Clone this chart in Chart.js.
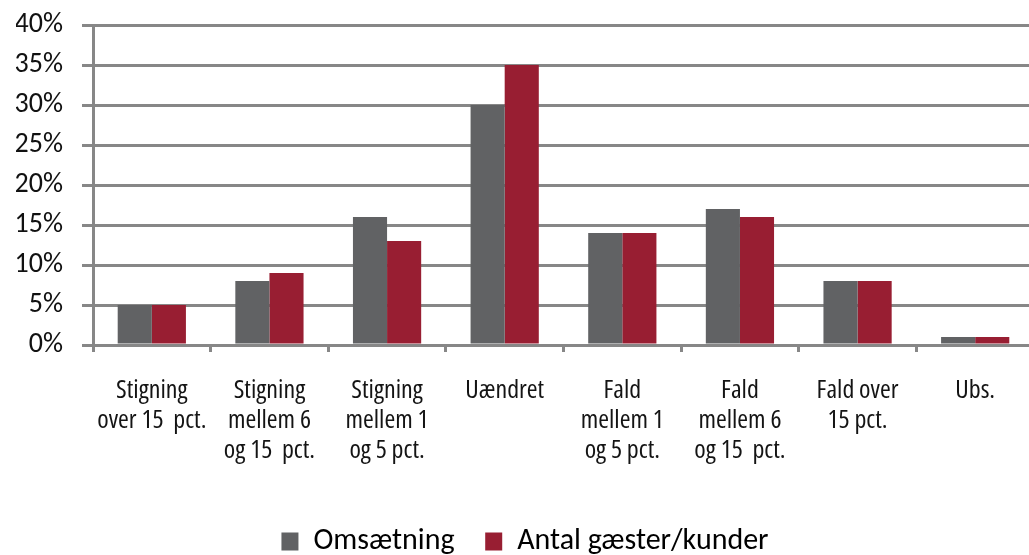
<!DOCTYPE html>
<html>
<head>
<meta charset="utf-8">
<script src="https://cdn.jsdelivr.net/npm/chart.js@4/dist/chart.umd.min.js"></script>
<style>
  html, body { margin: 0; padding: 0; background: #ffffff; overflow: hidden; }
  #wrap { width: 1040px; height: 555px; }
</style>
</head>
<body>
<div id="wrap"><canvas id="c" width="1040" height="555"></canvas></div>
<script>
const categories = [
  ["Stigning", "over 15  pct."],
  ["Stigning", "mellem 6", "og 15  pct."],
  ["Stigning", "mellem 1", "og 5 pct."],
  ["Uændret"],
  ["Fald", "mellem 1", "og 5 pct."],
  ["Fald", "mellem 6", "og 15  pct."],
  ["Fald over", "15 pct."],
  ["Ubs."]
];
const seriesNames = ["Omsætning", "Antal gæster/kunder"];
const omsaetning = [5, 8, 16, 30, 14, 17, 8, 1];
const antalGaester = [5, 9, 13, 35, 14, 16, 8, 1];
const yTicks = [0, 5, 10, 15, 20, 25, 30, 35, 40];

const GRID = '#878787';
const GRAY = '#616264';
const RED = '#981E32';

new Chart(document.getElementById('c'), {
  type: 'bar',
  data: {
    labels: categories,
    datasets: [
      { label: seriesNames[0], data: omsaetning, backgroundColor: GRAY, borderWidth: 0,
        categoryPercentage: 0.58, barPercentage: 1.0 },
      { label: seriesNames[1], data: antalGaester, backgroundColor: RED, borderWidth: 0,
        categoryPercentage: 0.58, barPercentage: 1.0 }
    ]
  },
  options: {
    responsive: false,
    animation: false,
    devicePixelRatio: 1,
    layout: { padding: { left: 16, right: 6, top: 25, bottom: -11.5 } },
    plugins: {
      tooltip: { enabled: false },
      legend: {
        position: 'bottom',
        align: 'center',
        labels: {
          boxWidth: 17,
          boxHeight: 18,
          padding: 30.6,
          color: '#000000',
          font: { family: "Carlito, 'Open Sans', sans-serif", size: 30 }
        }
      }
    },
    scales: {
      x: {
        offset: true,
        afterFit: (s) => { s.height = 150.9; },
        grid: {
          display: true,
          offset: true,
          drawOnChartArea: false,
          drawTicks: true,
          tickLength: 7,
          color: GRID,
          lineWidth: 3
        },
        border: { display: true, color: GRID, width: 3 },
        ticks: {
          maxRotation: 0,
          minRotation: 0,
          autoSkip: false,
          padding: 23.6,
          color: '#141414',
          font: { family: "'Open Sans', sans-serif", weight: 'condensed', size: 26, lineHeight: 1.16 }
        }
      },
      y: {
        min: 0,
        max: 40,
        afterFit: (s) => { s.width = 77; },
        afterBuildTicks: (s) => { s.ticks = yTicks.map(v => ({ value: v })); },
        grid: {
          color: GRID,
          lineWidth: 3,
          drawTicks: true,
          tickLength: 11
        },
        border: { display: true, color: GRID, width: 3 },
        ticks: {
          padding: 19,
          color: '#111111',
          font: { family: "Carlito, 'Open Sans', sans-serif", size: 28, lineHeight: 0.3 },
          callback: (v) => v + '%'
        }
      }
    }
  }
});
</script>
</body>
</html>
